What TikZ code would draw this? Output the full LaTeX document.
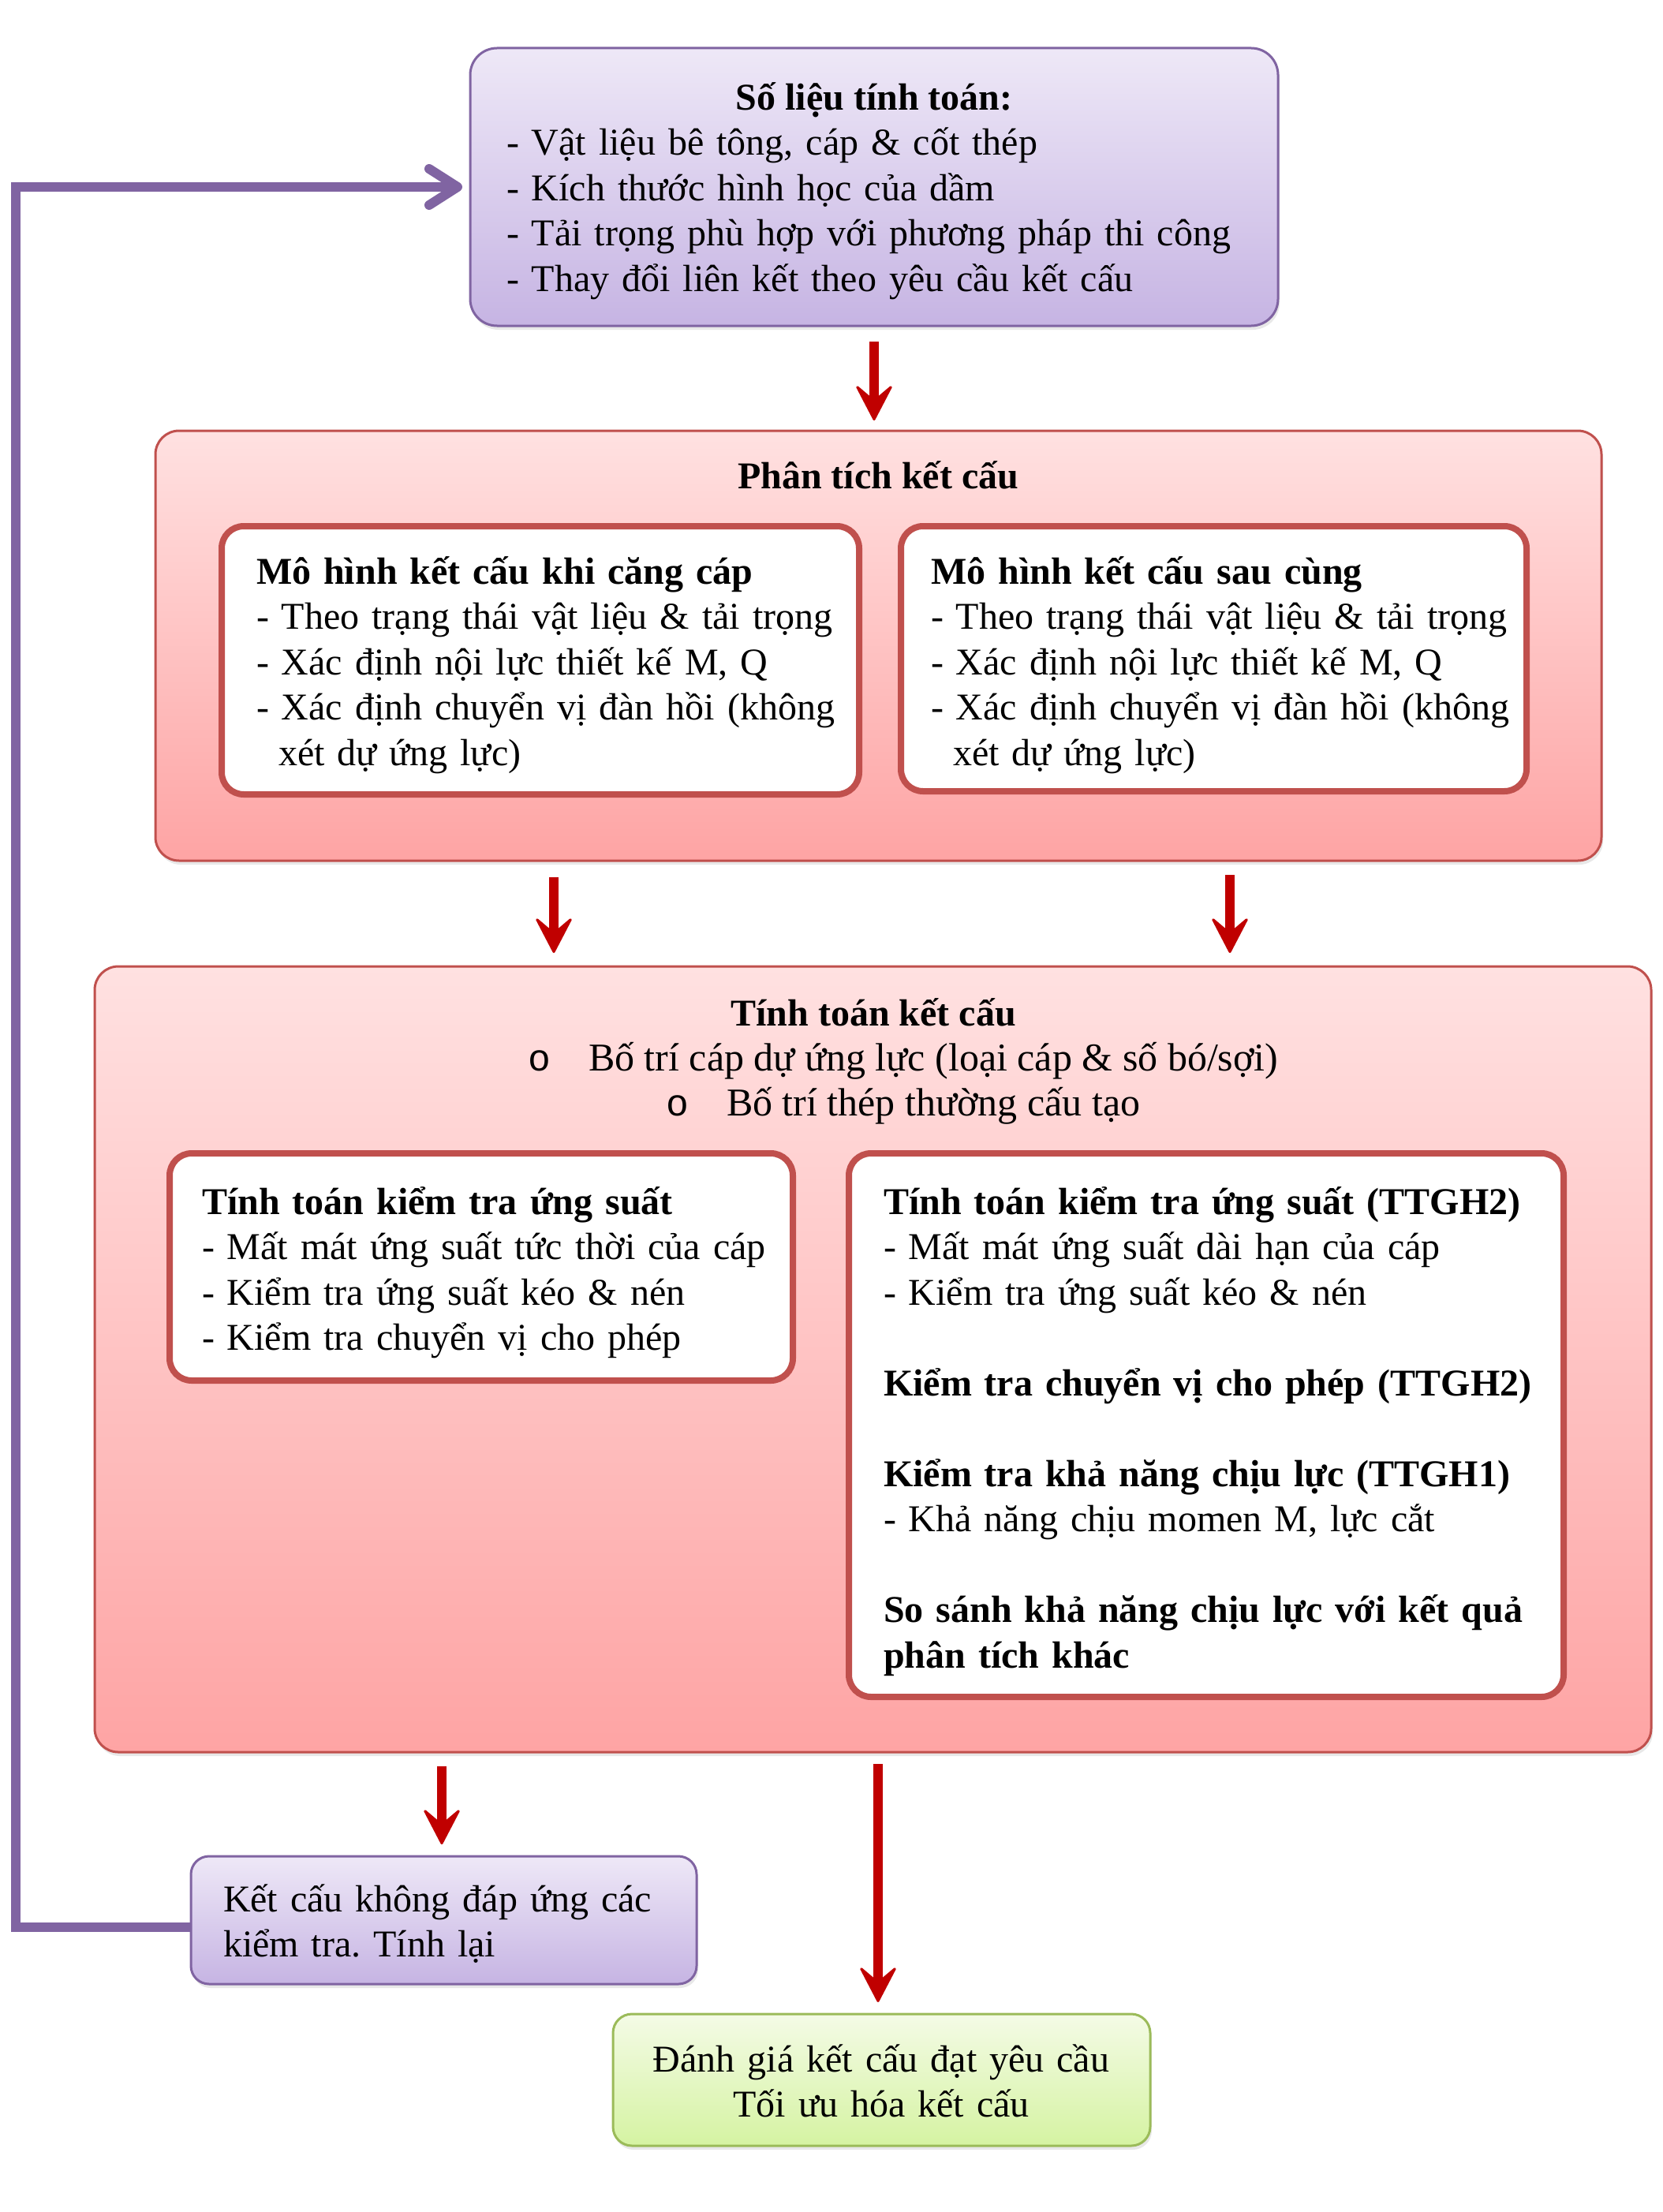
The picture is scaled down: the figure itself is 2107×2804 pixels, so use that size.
\documentclass[tikz,border=0pt]{standalone}
\usepackage{fontspec}
\setmainfont{Liberation Serif}
\newfontfamily\bulletfont{Liberation Mono}
\usetikzlibrary{arrows.meta,shadows}

\definecolor{purpB}{HTML}{8064A2}
\definecolor{purpT}{HTML}{EEE8F7}
\definecolor{purpD}{HTML}{C6B4E3}
\definecolor{redB}{HTML}{C0504D}
\definecolor{redT}{HTML}{FFE1E1}
\definecolor{redD}{HTML}{FEA4A4}
\definecolor{grnB}{HTML}{9BBB59}
\definecolor{grnT}{HTML}{F4FBE6}
\definecolor{grnD}{HTML}{D5F3A2}
\definecolor{arrRed}{HTML}{C00000}

\newcommand\fsz{\fontsize{48}{57.5}\selectfont\lineskiplimit=-100pt\parindent=0pt\frenchspacing}
\newcommand\fszb{\fontsize{50}{57.5}\selectfont\frenchspacing}
\newcommand\tstr{\rule{0pt}{50pt}}

\begin{document}
\begin{tikzpicture}[x=1pt,y=-1pt,
  box/.style={rectangle, inner sep=0pt, outer sep=0pt, anchor=north west},
  shad/.style={drop shadow={shadow xshift=2pt, shadow yshift=-5pt, opacity=0.18}},
  purplebox/.style={box, shad, draw=purpB, line width=3pt, rounded corners=34pt, top color=purpT, bottom color=purpD},
  redbox/.style={box, shad, draw=redB, line width=3pt, rounded corners=30pt, top color=redT, bottom color=redD},
  greenbox/.style={box, shad, draw=grnB, line width=3pt, rounded corners=24pt, top color=grnT, bottom color=grnD},
  whitebox/.style={box, draw=redB, line width=8pt, fill=white, rounded corners=28pt},
  lbl/.style={inner sep=0pt, outer sep=0pt, font=\fsz},
  para/.style={lbl, text width=#1, align=left, anchor=north west},
  para/.default=1400pt,
  redarr/.style={draw=arrRed, line width=12pt, -{Stealth[length=50pt, width=52pt, inset=22pt, line width=3pt, round]}},
  purparr/.style={draw=purpB, line width=12pt, -{Straight Barb[length=36pt, width=46pt, round]}}
]
\useasboundingbox (0,0) rectangle (2107,2804);

% ---------- top box ----------
\node[purplebox, minimum width=1024pt, minimum height=352pt] (top) at (596,61) {};
\node[lbl, anchor=base] (topT) at (1108,140) {\bfseries Số liệu tính toán:};
\node[para] (topL) at (642,147) {\tstr- Vật liệu bê tông, cáp \& cốt thép\\- Kích thước hình học của dầm\\- Tải trọng phù hợp với phương pháp thi công\\- Thay đổi liên kết theo yêu cầu kết cấu};

% ---------- analysis ----------
\node[redbox, minimum width=1833pt, minimum height=545pt] (pt) at (197,546) {};
\node[lbl, anchor=base] (ptT) at (1113,619) {\bfseries Phân tích kết cấu};

\node[whitebox, minimum width=808pt, minimum height=340pt] (m1) at (281,667) {};
\node[para] (m1T) at (325,690) {\tstr\textbf{Mô hình kết cấu khi căng cáp}\\- Theo trạng thái vật liệu \& tải trọng\\- Xác định nội lực thiết kế M, Q\\- Xác định chuyển vị đàn hồi (không\\\hspace*{28pt}xét dự ứng lực)};

\node[whitebox, minimum width=793pt, minimum height=336pt] (m2) at (1142,667) {};
\node[para] (m2T) at (1180,690) {\tstr\textbf{Mô hình kết cấu sau cùng}\\- Theo trạng thái vật liệu \& tải trọng\\- Xác định nội lực thiết kế M, Q\\- Xác định chuyển vị đàn hồi (không\\\hspace*{28pt}xét dự ứng lực)};

% ---------- calculation ----------
\node[redbox, minimum width=1973pt, minimum height=996pt] (tt) at (120,1225) {};
\node[lbl, anchor=base] (ttT) at (1107,1300) {\bfseries Tính toán kết cấu};
\node[lbl, anchor=base] (b1o) at (684,1357) {\bulletfont o};
\node[lbl, anchor=base west, font=\fszb] (b1) at (746,1357) {Bố trí cáp dự ứng lực (loại cáp \& số bó/sợi)};
\node[lbl, anchor=base] (b2o) at (859,1414) {\bulletfont o};
\node[lbl, anchor=base west, font=\fszb] (b2) at (921,1414) {Bố trí thép thường cấu tạo};

\node[whitebox, minimum width=790pt, minimum height=288pt] (k1) at (215,1462) {};
\node[para] (k1T) at (256,1489) {\tstr\textbf{Tính toán kiểm tra ứng suất}\\- Mất mát ứng suất tức thời của cáp\\- Kiểm tra ứng suất kéo \& nén\\- Kiểm tra chuyển vị cho phép};

\node[whitebox, minimum width=906pt, minimum height=689pt] (k2) at (1076,1462) {};
\node[para] (k2T) at (1120,1489) {\tstr\textbf{Tính toán kiểm tra ứng suất (TTGH2)}\\- Mất mát ứng suất dài hạn của cáp\\- Kiểm tra ứng suất kéo \& nén\\[57.5pt]\textbf{Kiểm tra chuyển vị cho phép (TTGH2)}\\[57.5pt]\textbf{Kiểm tra khả năng chịu lực (TTGH1)}\\- Khả năng chịu momen M, lực cắt\\[57.5pt]\textbf{So sánh khả năng chịu lực với kết quả}\\\textbf{phân tích khác}};

% ---------- results ----------
\node[purplebox, rounded corners=23pt, minimum width=641pt, minimum height=162pt] (fail) at (242,2353) {};
\node[para] (failT) at (283,2373) {\tstr Kết cấu không đáp ứng các\\kiểm tra. Tính lại};

\node[greenbox, minimum width=681pt, minimum height=167pt] (final) at (777,2553) {};
\node[lbl, text width=681pt, align=center, anchor=north] (finalT) at (1117,2576) {\tstr Đánh giá kết cấu đạt yêu cầu\\Tối ưu hóa kết cấu};

% ---------- connectors ----------
\coordinate (cL) at (702,0);
\coordinate (cR) at (1559,0);
\coordinate (cF) at (560,0);
\coordinate (cG) at (1113,0);
\coordinate (cLp) at (20,0);

\draw[redarr, shorten <=20pt, shorten >=13pt] (top.south) -- (top.south |- pt.north);
\draw[redarr, shorten <=21pt, shorten >=17pt] (pt.south -| cL) -- (tt.north -| cL);
\draw[redarr, shorten <=18pt, shorten >=17pt] (pt.south -| cR) -- (tt.north -| cR);
\draw[redarr, shorten <=18pt, shorten >=15pt] (tt.south -| cF) -- (fail.north -| cF);
\draw[redarr, shorten <=15pt, shorten >=15pt] (tt.south -| cG) -- (final.north -| cG);
\draw[purparr, shorten >=10pt] ([yshift=-9pt]fail.west) -| (cLp |- top.west) -- (top.west);
\end{tikzpicture}
\end{document}
